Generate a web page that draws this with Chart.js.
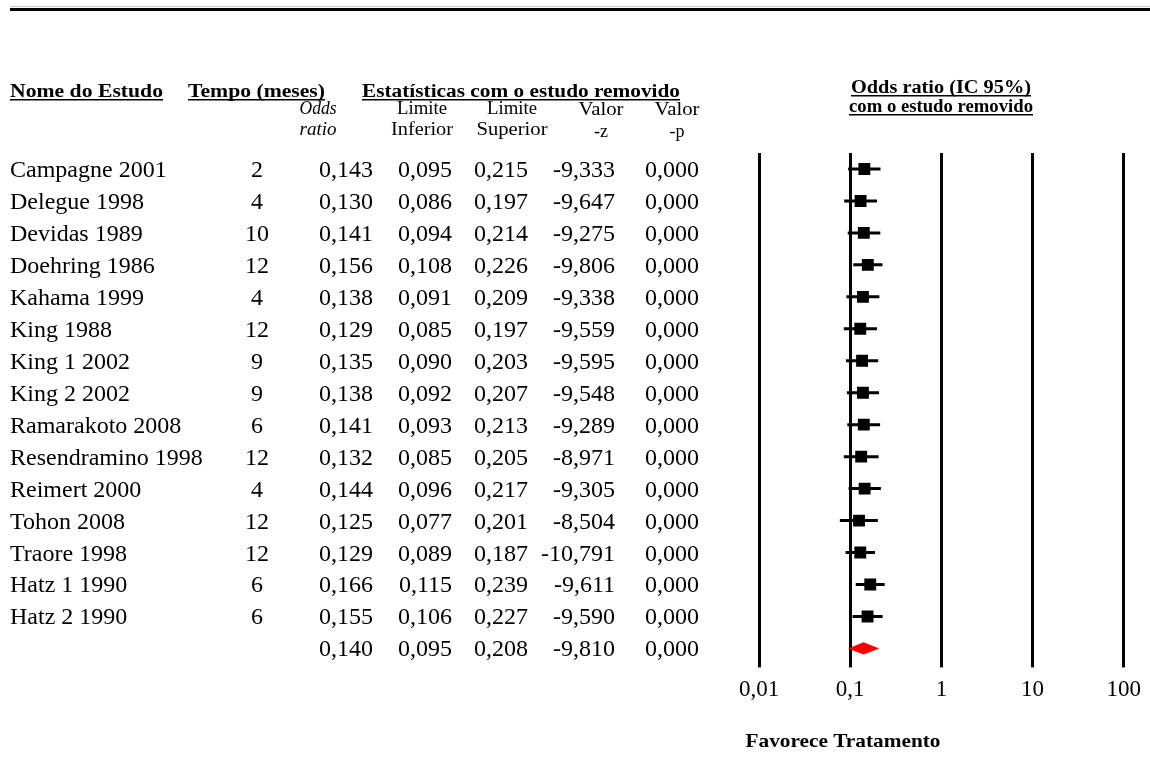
<!DOCTYPE html>
<html>
<head>
<meta charset="utf-8">
<script src="https://cdn.jsdelivr.net/npm/chart.js@4/dist/chart.umd.min.js"></script>
<style>
html,body{margin:0;padding:0;background:#fff;}
#wrap{width:1150px;height:779px;position:relative;}
canvas{display:block;}
</style>
</head>
<body>
<div id="wrap"><canvas id="c" width="1150" height="779"></canvas></div>
<script>
// ---- Data ----
const studies = ["Campagne 2001","Delegue 1998","Devidas 1989","Doehring 1986","Kahama 1999","King 1988","King 1 2002","King 2 2002","Ramarakoto 2008","Resendramino 1998","Reimert 2000","Tohon 2008","Traore 1998","Hatz 1 1990","Hatz 2 1990"];
const tempo = [2,4,10,12,4,12,9,9,6,12,4,12,12,6,6];
const oddsRatio = [0.143,0.130,0.141,0.156,0.138,0.129,0.135,0.138,0.141,0.132,0.144,0.125,0.129,0.166,0.155];
const lowerLimit = [0.095,0.086,0.094,0.108,0.091,0.085,0.090,0.092,0.093,0.085,0.096,0.077,0.089,0.115,0.106];
const upperLimit = [0.215,0.197,0.214,0.226,0.209,0.197,0.203,0.207,0.213,0.205,0.217,0.201,0.187,0.239,0.227];
const zValue = [-9.333,-9.647,-9.275,-9.806,-9.338,-9.559,-9.595,-9.548,-9.289,-8.971,-9.305,-8.504,-10.791,-9.611,-9.590];
const pValue = [0,0,0,0,0,0,0,0,0,0,0,0,0,0,0];
const summary = {or:0.140, low:0.095, high:0.208, z:-9.810, p:0.000};
const tickValues = [0.01,0.1,1,10,100];
const tickLabels = ["0,01","0,1","1","10","100"];

const fmt = (v) => v.toFixed(3).replace('.', ',');
const SERIF = "'Liberation Serif','Times New Roman',serif";
const nRows = studies.length;

// ---- Datasets ----
const datasets = [];
studies.forEach((s,i)=>{
  datasets.push({
    label:'ci'+i, showLine:true, data:[{x:lowerLimit[i],y:i},{x:upperLimit[i],y:i}],
    borderColor:'#000', borderWidth:3, pointRadius:0, fill:false
  });
});
datasets.push({
  label:'or', data: oddsRatio.map((v,i)=>({x:v,y:i})),
  pointStyle:'rect', pointRadius:8.4, backgroundColor:'#000', borderColor:'#000', borderWidth:0
});
const dh = 0.19;
datasets.push({
  label:'summary', showLine:true,
  data:[{x:summary.low,y:nRows},{x:summary.or,y:nRows-dh},{x:summary.high,y:nRows},{x:summary.or,y:nRows+dh},{x:summary.low,y:nRows}],
  borderColor:'#ff0000', borderWidth:0, backgroundColor:'#ff0000', fill:'shape', pointRadius:0, tension:0
});

// ---- Text plugin ----
const textPlugin = {
  id:'forestText',
  beforeDraw(chart){
    const ctx = chart.ctx;
    ctx.save();
    ctx.fillStyle = '#fff';
    ctx.fillRect(0,0,chart.width,chart.height);
    ctx.fillStyle = '#c8c8c8';
    ctx.fillRect(10,6,1140,1);
    ctx.fillStyle = '#000';
    ctx.fillRect(10,8,1140,3);
    ctx.restore();
  },
  afterDraw(chart){
    const ctx = chart.ctx;
    const y = chart.scales.y;
    ctx.save();
    ctx.fillStyle = '#000';
    ctx.textBaseline = 'alphabetic';

    // text; optional target width tw (stretch/compress horizontally to fit)
    function txt(t, px, py, align, font, tw, underline){
      ctx.font = font;
      const mw = ctx.measureText(t).width;
      const sx = tw ? tw / mw : 1;
      const w = mw * sx;
      let x0 = px;
      if(align==='center') x0 = px - w/2;
      else if(align==='right') x0 = px - w;
      ctx.save();
      ctx.translate(x0, py);
      ctx.scale(sx, 1);
      ctx.textAlign = 'left';
      ctx.fillText(t, 0, 0);
      ctx.restore();
      if(underline) ctx.fillRect(x0, py+2, w, 1.5);
    }
    const hb = "bold 18px " + SERIF;
    txt("Nome do Estudo", 10, 97, 'left', hb, 153, true);
    txt("Tempo (meses)", 188, 97, 'left', hb, 137, true);
    txt("Estatísticas com o estudo removido", 362, 97, 'left', hb, 318, true);
    txt("Odds ratio (IC 95%)", 941, 93, 'center', hb, 180, true);
    txt("com o estudo removido", 941, 112, 'center', hb, 184, true);

    const sf = "18px " + SERIF;
    const si = "italic 18px " + SERIF;
    txt("Odds", 318, 114, 'center', si, 37);
    txt("ratio", 318, 135, 'center', si, 37);
    txt("Limite", 422, 114, 'center', sf, 50);
    txt("Inferior", 422, 135, 'center', sf, 62);
    txt("Limite", 512, 114, 'center', sf, 50);
    txt("Superior", 512, 135, 'center', sf, 71);
    txt("Valor", 601, 115, 'center', sf, 45);
    txt("-z", 601, 137, 'center', sf);
    txt("Valor", 677, 115, 'center', sf, 45);
    txt("-p", 677, 137, 'center', sf);

    const df = "24px " + SERIF;
    for(let i=0;i<nRows;i++){
      const py = y.getPixelForValue(i) + 8;
      txt(studies[i], 10, py, 'left', df);
      txt(String(tempo[i]), 257, py, 'center', df);
      txt(fmt(oddsRatio[i]), 373, py, 'right', df);
      txt(fmt(lowerLimit[i]), 452, py, 'right', df);
      txt(fmt(upperLimit[i]), 528, py, 'right', df);
      txt(fmt(zValue[i]), 615, py, 'right', df);
      txt(fmt(pValue[i]), 699, py, 'right', df);
    }
    const sy = y.getPixelForValue(nRows) + 8;
    txt(fmt(summary.or), 373, sy, 'right', df);
    txt(fmt(summary.low), 452, sy, 'right', df);
    txt(fmt(summary.high), 528, sy, 'right', df);
    txt(fmt(summary.z), 615, sy, 'right', df);
    txt(fmt(summary.p), 699, sy, 'right', df);

    txt("Favorece Tratamento", 843, 747, 'center', "bold 19px " + SERIF, 195);
    ctx.restore();
  }
};

new Chart(document.getElementById('c'), {
  type:'scatter',
  data:{datasets},
  options:{
    responsive:false, animation:false, devicePixelRatio:1,
    layout:{padding:{left:759, right:26, top:153, bottom:66}},
    plugins:{legend:{display:false}, tooltip:{enabled:false}},
    scales:{
      x:{
        type:'logarithmic', min:0.01, max:100, position:'bottom',
        afterBuildTicks:(scale)=>{ scale.ticks = tickValues.map(v=>({value:v})); },
        grid:{color:'#000', lineWidth:3, drawTicks:true, tickLength:3, tickColor:'#000', drawOnChartArea:true},
        border:{display:false},
        ticks:{
          color:'#000', font:{family:SERIF, size:23}, padding:9, maxRotation:0, autoSkip:false,
          callback:(v)=>{ const k = tickValues.indexOf(v); return k>=0 ? tickLabels[k] : ''; }
        }
      },
      y:{ type:'linear', min:-0.5, max:15.5, reverse:true, display:false }
    }
  },
  plugins:[textPlugin]
});
</script>
</body>
</html>
